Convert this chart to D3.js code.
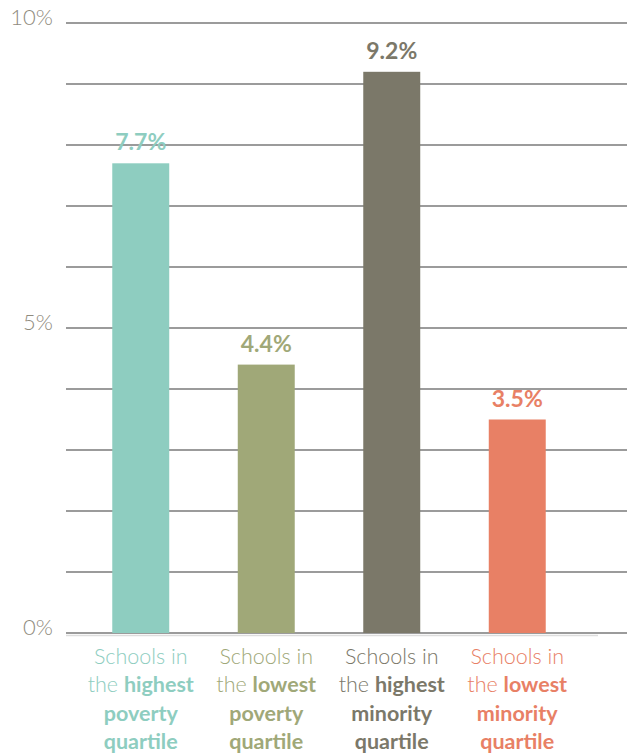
<!DOCTYPE html>
<html>
<head>
<meta charset="utf-8">
<script src="https://cdn.jsdelivr.net/npm/d3@7"></script>
<style>
  body { margin: 0; background: #fff; }
  svg { font-family: Lato, "Open Sans", sans-serif; }
</style>
</head>
<body>
<div class="chart"></div>
<script>
// data
const categories = ["highPoverty", "lowPoverty", "highMinority", "lowMinority"];
const values = [7.7, 4.4, 9.2, 3.5];
const valueLabels = ["7.7%", "4.4%", "9.2%", "3.5%"];
const labelLines = [
    [["Schools in", ""], ["the ", "highest"], ["", "poverty"], ["", "quartile"]],
    [["Schools in", ""], ["the ", "lowest"], ["", "poverty"], ["", "quartile"]],
    [["Schools in", ""], ["the ", "highest"], ["", "minority"], ["", "quartile"]],
    [["Schools in", ""], ["the ", "lowest"], ["", "minority"], ["", "quartile"]]
];
const yTickValues = [0, 5, 10];
const yTickLabels = ["0%", "5%", "10%"];
const colors = ["#8ecdc0", "#a0a878", "#7b7869", "#e88065"];

const width = 627, height = 755;

const svg = d3.select(".chart")
    .append("svg")
    .attr("width", width)
    .attr("height", height);

// scales
const xScale = d3.scaleBand()
    .domain(categories)
    .range([78, 580])
    .paddingInner(0.546)
    .paddingOuter(0.273);

const yScale = d3.scaleLinear()
    .domain([0, 10])
    .range([633, 23]);

// gridlines every 1%
svg.append("g")
    .selectAll("line")
    .data(d3.range(0, 11))
    .join("line")
    .attr("x1", 66)
    .attr("x2", width)
    .attr("y1", d => yScale(d))
    .attr("y2", d => yScale(d))
    .attr("stroke", "#7a7a7a")
    .attr("stroke-width", 1.3);

// faint shadow under baseline
svg.append("line")
    .attr("x1", 66).attr("x2", 598)
    .attr("y1", yScale(0) + 2.5).attr("y2", yScale(0) + 2.5)
    .attr("stroke", "#ddd").attr("stroke-width", 1.5);

// y axis labels
const yAxis = d3.axisLeft(yScale)
    .tickValues(yTickValues)
    .tickFormat((d, i) => yTickLabels[i])
    .tickSize(0)
    .tickPadding(0);

svg.append("g")
    .attr("class", "y-axis")
    .attr("transform", "translate(53, -6)")
    .call(yAxis)
    .call(g => g.select(".domain").remove())
    .call(g => g.selectAll("text")
        .attr("font-family", "Lato, sans-serif")
        .attr("font-size", 22)
        .attr("font-weight", 300)
        .attr("fill", "#8f8b7e"));

// bars
svg.append("g")
    .selectAll("rect")
    .data(values)
    .join("rect")
    .attr("x", (d, i) => xScale(categories[i]))
    .attr("width", xScale.bandwidth())
    .attr("y", d => yScale(d))
    .attr("height", d => yScale(0) - yScale(d))
    .attr("fill", (d, i) => colors[i]);

// value labels
svg.append("g")
    .selectAll("text")
    .data(values)
    .join("text")
    .attr("x", (d, i) => xScale(categories[i]) + xScale.bandwidth() / 2)
    .attr("y", d => yScale(d) - 13)
    .attr("text-anchor", "middle")
    .attr("font-size", 23)
    .attr("font-weight", 700)
    .attr("fill", (d, i) => colors[i])
    .text((d, i) => valueLabels[i]);

// category labels
const lineY = [664, 692, 721, 749];
categories.forEach((c, i) => {
    const cx = xScale(c) + xScale.bandwidth() / 2;
    labelLines[i].forEach((parts, j) => {
        const t = svg.append("text")
            .attr("x", cx)
            .attr("y", lineY[j])
            .attr("text-anchor", "middle")
            .attr("font-size", 21.5)
            .attr("fill", colors[i]);
        if (parts[0]) t.append("tspan").attr("font-weight", 300).text(parts[0]);
        if (parts[1]) t.append("tspan").attr("font-weight", 700).text(parts[1]);
    });
});
</script>
</body>
</html>
